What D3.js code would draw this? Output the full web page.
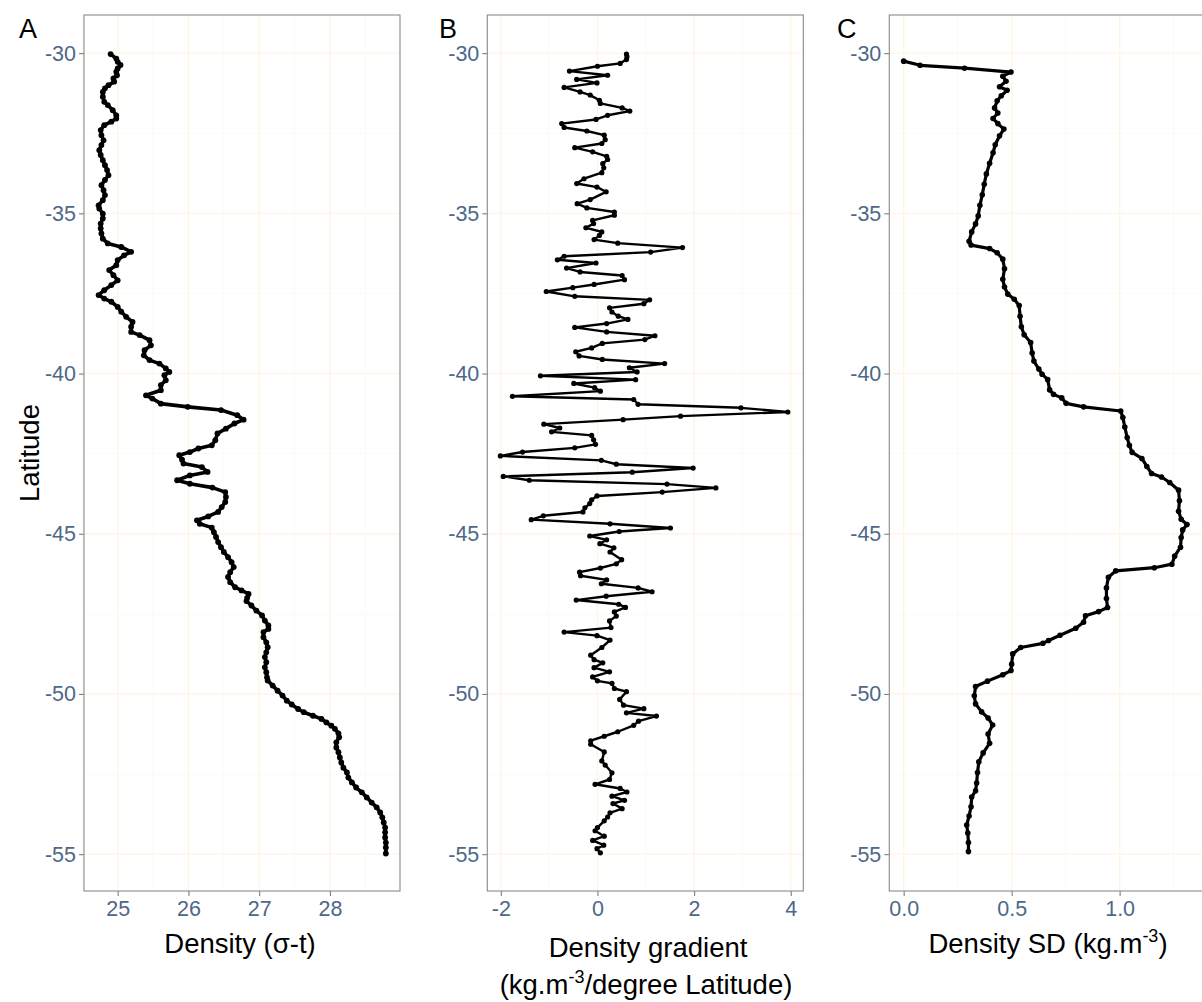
<!DOCTYPE html>
<html>
<head>
<meta charset="utf-8">
<script src="https://cdn.jsdelivr.net/npm/d3@7"></script>
<style>
  html, body { margin: 0; padding: 0; background: #fff; }
  svg { display: block; font-family: "Liberation Sans", Arial, sans-serif; }
</style>
</head>
<body>
<svg id="chart" width="1202" height="1002"></svg>
<script>
// Panel A: surface density (sigma-t) along the transect
const densityLat = [-30.03,-30.17,-30.27,-30.37,-30.48,-30.58,-30.69,-30.79,-30.89,-31.00,-31.10,-31.21,-31.36,-31.52,-31.62,-31.78,-31.94,-32.04,-32.14,-32.25,-32.40,-32.56,-32.72,-32.87,-33.03,-33.18,-33.34,-33.50,-33.65,-33.81,-33.96,-34.12,-34.28,-34.43,-34.59,-34.75,-34.85,-35.01,-35.16,-35.32,-35.47,-35.63,-35.79,-35.94,-36.05,-36.20,-36.31,-36.46,-36.62,-36.77,-36.93,-37.09,-37.24,-37.40,-37.55,-37.66,-37.76,-37.92,-38.07,-38.23,-38.39,-38.54,-38.70,-38.80,-38.96,-39.12,-39.27,-39.43,-39.58,-39.69,-39.84,-39.95,-40.05,-40.21,-40.36,-40.52,-40.68,-40.78,-40.94,-41.04,-41.14,-41.30,-41.44,-41.56,-41.72,-41.87,-42.08,-42.24,-42.34,-42.45,-42.55,-42.69,-42.81,-42.92,-43.07,-43.18,-43.33,-43.44,-43.56,-43.70,-43.85,-44.01,-44.17,-44.32,-44.46,-44.58,-44.69,-44.81,-44.95,-45.10,-45.26,-45.42,-45.57,-45.73,-45.89,-46.04,-46.20,-46.35,-46.51,-46.67,-46.77,-46.88,-47.00,-47.10,-47.24,-47.40,-47.55,-47.71,-47.86,-47.97,-48.07,-48.23,-48.39,-48.54,-48.70,-48.85,-49.01,-49.17,-49.32,-49.48,-49.58,-49.74,-49.90,-50.05,-50.21,-50.33,-50.47,-50.57,-50.68,-50.78,-50.89,-50.99,-51.09,-51.23,-51.35,-51.51,-51.67,-51.82,-51.98,-52.14,-52.30,-52.45,-52.61,-52.76,-52.92,-53.07,-53.23,-53.39,-53.54,-53.70,-53.85,-54.01,-54.17,-54.32,-54.48,-54.64,-54.79,-54.98];
const density = [24.90,24.98,25.00,25.04,25.00,24.98,24.99,24.94,24.95,24.87,24.82,24.79,24.79,24.81,24.86,24.93,24.98,24.98,24.91,24.81,24.76,24.77,24.80,24.77,24.74,24.76,24.79,24.82,24.85,24.87,24.82,24.77,24.80,24.82,24.79,24.73,24.74,24.79,24.79,24.76,24.76,24.77,24.79,24.86,25.05,25.19,25.09,25.00,24.98,24.88,24.94,25.00,24.91,24.81,24.73,24.81,24.91,25.00,25.05,25.12,25.21,25.19,25.19,25.31,25.45,25.47,25.38,25.37,25.45,25.59,25.68,25.73,25.66,25.68,25.61,25.61,25.40,25.49,25.61,25.99,26.46,26.69,26.78,26.65,26.53,26.41,26.38,26.33,26.14,26.02,25.87,25.91,25.93,26.19,26.27,26.02,25.84,26.02,26.34,26.52,26.53,26.52,26.47,26.42,26.28,26.12,26.16,26.33,26.36,26.39,26.42,26.46,26.50,26.56,26.61,26.64,26.59,26.56,26.59,26.66,26.75,26.85,26.83,26.82,26.89,26.96,27.04,27.08,27.13,27.13,27.06,27.06,27.10,27.12,27.10,27.08,27.10,27.08,27.10,27.11,27.12,27.19,27.26,27.33,27.39,27.46,27.55,27.63,27.76,27.88,27.95,28.02,28.07,28.12,28.13,28.09,28.09,28.12,28.14,28.16,28.19,28.24,28.26,28.31,28.37,28.45,28.52,28.59,28.66,28.71,28.74,28.76,28.78,28.78,28.78,28.79,28.79,28.79];

// Panel B: along-track density gradient
const gradientLat = [-30.03,-30.11,-30.20,-30.32,-30.41,-30.56,-30.69,-30.82,-30.93,-31.07,-31.21,-31.31,-31.47,-31.57,-31.71,-31.81,-31.94,-32.07,-32.20,-32.32,-32.43,-32.56,-32.70,-32.82,-32.95,-33.08,-33.22,-33.32,-33.45,-33.58,-33.73,-33.92,-34.07,-34.18,-34.33,-34.57,-34.70,-34.83,-34.96,-35.06,-35.22,-35.32,-35.45,-35.58,-35.69,-35.82,-35.93,-36.07,-36.21,-36.34,-36.45,-36.55,-36.71,-36.83,-36.94,-37.07,-37.22,-37.32,-37.44,-37.59,-37.70,-37.82,-37.95,-38.08,-38.21,-38.31,-38.44,-38.56,-38.70,-38.82,-38.94,-39.06,-39.20,-39.32,-39.45,-39.56,-39.69,-39.82,-39.95,-40.07,-40.19,-40.31,-40.44,-40.55,-40.71,-40.81,-40.96,-41.07,-41.20,-41.33,-41.44,-41.58,-41.70,-41.82,-41.93,-42.07,-42.21,-42.32,-42.45,-42.57,-42.71,-42.83,-42.95,-43.08,-43.21,-43.33,-43.45,-43.57,-43.70,-43.82,-43.94,-44.06,-44.19,-44.32,-44.44,-44.56,-44.69,-44.82,-44.93,-45.07,-45.19,-45.31,-45.44,-45.57,-45.81,-45.94,-46.07,-46.20,-46.31,-46.44,-46.56,-46.69,-46.81,-46.95,-47.07,-47.20,-47.30,-47.44,-47.57,-47.72,-47.93,-48.07,-48.18,-48.32,-48.55,-48.79,-48.93,-49.03,-49.18,-49.31,-49.47,-49.59,-49.67,-49.83,-49.93,-50.17,-50.35,-50.46,-50.59,-50.69,-50.85,-50.98,-51.18,-51.32,-51.46,-51.57,-51.81,-52.09,-52.22,-52.46,-52.67,-52.82,-52.95,-53.06,-53.19,-53.32,-53.42,-53.58,-53.71,-53.84,-53.96,-54.17,-54.27,-54.44,-54.57,-54.72,-54.83,-54.96];
const gradient = [0.60,0.61,0.60,0.47,0.00,-0.58,0.21,-0.43,-0.01,-0.69,-0.36,-0.15,0.04,0.06,0.51,0.67,0.21,-0.03,-0.74,-0.69,-0.22,0.14,0.16,0.09,-0.47,-0.10,0.19,0.21,0.11,0.13,0.09,-0.28,-0.43,-0.01,0.18,-0.15,-0.42,-0.22,0.35,0.35,-0.10,-0.08,-0.24,0.09,0.04,-0.07,0.42,1.76,1.10,-0.69,-0.83,-0.03,-0.64,-0.36,0.51,0.56,-0.07,-0.51,-1.06,-0.47,1.08,0.96,0.25,0.30,0.43,0.63,0.19,-0.47,0.19,1.19,0.98,0.10,-0.12,-0.45,-0.38,0.10,1.39,0.66,0.82,-1.18,0.79,-0.49,-0.06,0.06,-1.76,0.75,0.84,2.97,3.94,1.72,0.53,-1.11,-0.78,-0.95,-0.12,-0.08,-0.04,-0.47,-1.55,-2.01,0.08,0.39,1.98,0.72,-1.95,-1.41,1.44,2.45,1.34,-0.01,-0.12,-0.16,-0.26,-0.30,-1.12,-1.37,0.26,1.51,0.45,-0.16,0.19,0.05,0.34,0.26,0.50,0.39,0.06,-0.37,-0.35,0.19,0.08,0.84,1.13,0.18,-0.44,0.44,0.58,0.35,0.39,0.25,0.28,-0.69,-0.01,0.26,0.09,-0.14,-0.07,0.11,-0.07,0.25,-0.10,0.00,0.30,0.35,0.60,0.46,0.54,0.96,0.60,1.22,0.85,0.75,0.42,0.14,-0.14,-0.14,0.14,0.09,0.16,0.30,0.25,-0.05,0.47,0.61,0.30,0.56,0.32,0.51,0.26,0.21,0.14,0.00,-0.05,0.14,-0.10,0.13,-0.01,0.06];

// Panel C: running standard deviation of density
const sdLat = [-30.25,-30.38,-30.47,-30.59,-30.72,-30.88,-31.05,-31.16,-31.33,-31.49,-31.71,-31.87,-32.04,-32.20,-32.37,-32.58,-32.86,-33.11,-33.44,-33.77,-34.09,-34.42,-34.75,-35.08,-35.33,-35.58,-35.87,-35.99,-36.10,-36.23,-36.43,-36.73,-37.06,-37.30,-37.52,-37.68,-37.88,-38.21,-38.54,-38.79,-39.03,-39.36,-39.61,-39.86,-40.02,-40.19,-40.51,-40.65,-40.76,-40.93,-41.04,-41.17,-41.37,-41.67,-42.00,-42.24,-42.46,-42.65,-42.90,-43.12,-43.23,-43.40,-43.64,-43.97,-44.30,-44.55,-44.71,-44.88,-45.12,-45.42,-45.70,-45.95,-46.06,-46.16,-46.36,-46.69,-47.02,-47.30,-47.43,-47.56,-47.76,-47.95,-48.17,-48.33,-48.42,-48.55,-48.75,-49.07,-49.27,-49.40,-49.60,-49.77,-50.06,-50.31,-50.56,-50.75,-50.97,-51.25,-51.54,-51.84,-52.12,-52.45,-52.78,-53.02,-53.22,-53.52,-53.81,-54.09,-54.34,-54.64,-54.92];
const densitySD = [0.000,0.076,0.282,0.497,0.459,0.474,0.444,0.479,0.452,0.433,0.421,0.436,0.414,0.436,0.464,0.444,0.424,0.414,0.398,0.383,0.373,0.364,0.353,0.345,0.333,0.315,0.303,0.312,0.398,0.433,0.459,0.467,0.459,0.467,0.482,0.512,0.535,0.539,0.545,0.558,0.588,0.595,0.603,0.626,0.641,0.667,0.676,0.694,0.732,0.752,0.833,1.005,1.015,1.024,1.035,1.045,1.058,1.103,1.126,1.148,1.194,1.232,1.273,1.277,1.273,1.285,1.312,1.292,1.285,1.282,1.255,1.242,1.161,0.982,0.948,0.939,0.939,0.944,0.903,0.842,0.833,0.797,0.724,0.671,0.645,0.542,0.505,0.500,0.497,0.459,0.388,0.333,0.327,0.333,0.361,0.391,0.412,0.391,0.398,0.368,0.348,0.342,0.338,0.333,0.315,0.312,0.303,0.292,0.297,0.300,0.300];

// Axis breaks and labels
const latTicks = [-30, -35, -40, -45, -50, -55];
const latMinor = [-32.5, -37.5, -42.5, -47.5, -52.5];
const densityTicks = [25, 26, 27, 28];
const densityMinor = [24.5, 25.5, 26.5, 27.5, 28.5];
const gradientTicks = [-2, 0, 2, 4];
const gradientMinor = [-1, 1, 3];
const sdTicks = [0, 0.5, 1.0];
const sdMinor = [0.25, 0.75, 1.25];
const panelTags = ["A", "B", "C"];

const svg = d3.select("#chart");
const plotTop = 15, plotBottom = 891;
const y = d3.scaleLinear().domain([-28.81, -56.15]).range([plotTop, plotBottom]);

const TICK_COL = "#4d6888";
const GRID_MAJOR = "#fdf6e4";
const GRID_MINOR = "#fefaf0";

function drawPanel(cfg) {
  const x = d3.scaleLinear().domain(cfg.domain).range([cfg.left, cfg.right]);
  const g = svg.append("g");

  // grid
  const grid = g.append("g");
  cfg.minor.forEach(v => grid.append("line")
    .attr("x1", x(v)).attr("x2", x(v)).attr("y1", plotTop).attr("y2", plotBottom)
    .attr("stroke", GRID_MINOR).attr("stroke-width", 1));
  latMinor.forEach(v => grid.append("line")
    .attr("x1", cfg.left).attr("x2", cfg.right).attr("y1", y(v)).attr("y2", y(v))
    .attr("stroke", GRID_MINOR).attr("stroke-width", 1));
  cfg.ticks.forEach(v => grid.append("line")
    .attr("x1", x(v)).attr("x2", x(v)).attr("y1", plotTop).attr("y2", plotBottom)
    .attr("stroke", GRID_MAJOR).attr("stroke-width", 1.4));
  latTicks.forEach(v => grid.append("line")
    .attr("x1", cfg.left).attr("x2", cfg.right).attr("y1", y(v)).attr("y2", y(v))
    .attr("stroke", GRID_MAJOR).attr("stroke-width", 1.4));

  // axes
  const yAxis = d3.axisLeft(y).tickValues(latTicks).tickSize(5).tickPadding(3)
    .tickFormat(d => String(d));
  const ya = g.append("g").attr("transform", `translate(${cfg.left},0)`).call(yAxis);
  const xAxis = d3.axisBottom(x).tickValues(cfg.ticks).tickSize(5).tickPadding(5)
    .tickFormat(cfg.fmt);
  const xa = g.append("g").attr("transform", `translate(0,${plotBottom})`).call(xAxis);
  [ya, xa].forEach(a => {
    a.select(".domain").remove();
    a.selectAll(".tick line").attr("stroke", "#7f7f7f").attr("stroke-width", 1.1);
    a.selectAll(".tick text").attr("fill", TICK_COL)
      .style("font-size", "21.5px").style("font-family", "'Liberation Sans', Arial, sans-serif");
  });

  // border
  g.append("rect").attr("x", cfg.left).attr("y", plotTop)
    .attr("width", cfg.right - cfg.left).attr("height", plotBottom - plotTop)
    .attr("fill", "none").attr("stroke", "#8a8a8a").attr("stroke-width", 1.1);

  // data
  const pts = cfg.lat.map((la, i) => ({ lat: la, v: cfg.vals[i] }));
  const line = d3.line().x(d => x(d.v)).y(d => y(d.lat));
  g.append("path").datum(pts).attr("d", line)
    .attr("fill", "none").attr("stroke", "#000").attr("stroke-width", cfg.lw)
    .attr("stroke-linejoin", "round");
  g.append("g").selectAll("circle").data(pts).join("circle")
    .attr("cx", d => x(d.v)).attr("cy", d => y(d.lat)).attr("r", cfg.r).attr("fill", "#000");

  // panel tag
  g.append("text").attr("x", cfg.tagX).attr("y", 38).text(cfg.tag)
    .style("font-size", "27px").attr("fill", "#000");

  return x;
}

drawPanel({ left: 84, right: 400, domain: [24.524, 28.99], ticks: densityTicks, minor: densityMinor,
  fmt: d => String(d), lat: densityLat, vals: density, tag: panelTags[0], tagX: 19, lw: 3.6, r: 2.9 });
drawPanel({ left: 487.3, right: 803.3, domain: [-2.28, 4.26], ticks: gradientTicks, minor: gradientMinor,
  fmt: d => String(d), lat: gradientLat, vals: gradient, tag: panelTags[1], tagX: 439, lw: 2.4, r: 2.6 });
drawPanel({ left: 889.3, right: 1206, domain: [-0.0665, 1.4], ticks: sdTicks, minor: sdMinor,
  fmt: d3.format(".1f"), lat: sdLat, vals: densitySD, tag: panelTags[2], tagX: 837, lw: 3.2, r: 2.8 });

// axis titles
const titleStyle = s => s.style("font-size", "27.5px").attr("fill", "#000").attr("text-anchor", "middle");

svg.append("text").attr("transform", "translate(39,453) rotate(-90)")
  .text("Latitude").call(titleStyle);

svg.append("text").attr("x", 240).attr("y", 953).text("Density (σ-t)").call(titleStyle);

svg.append("text").attr("x", 648).attr("y", 957).text("Density gradient").call(titleStyle);
const t2 = svg.append("text").attr("x", 646).attr("y", 994).call(titleStyle);
t2.append("tspan").text("(kg.m");
t2.append("tspan").attr("dy", -11).style("font-size", "18px").text("-3");
t2.append("tspan").attr("dy", 11).text("/degree Latitude)");

const t3 = svg.append("text").attr("x", 1048).attr("y", 953).call(titleStyle);
t3.append("tspan").text("Density SD (kg.m");
t3.append("tspan").attr("dy", -11).style("font-size", "18px").text("-3");
t3.append("tspan").attr("dy", 11).text(")");
</script>
</body>
</html>
